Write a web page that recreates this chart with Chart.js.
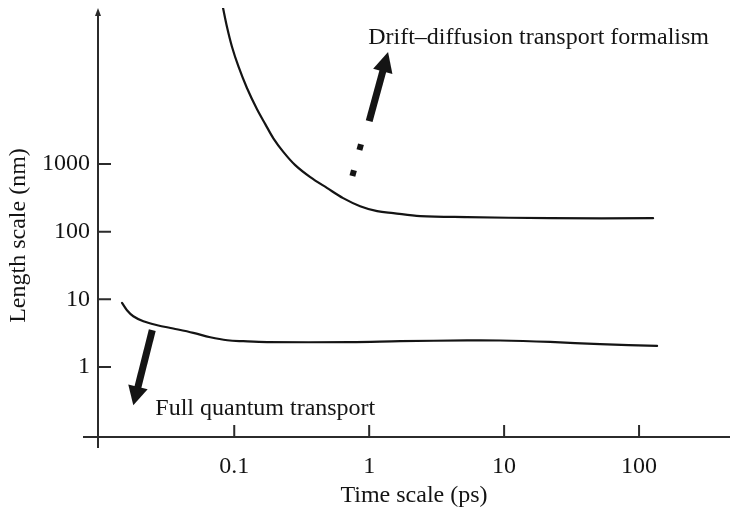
<!DOCTYPE html>
<html><head><meta charset="utf-8">
<script src="https://cdn.jsdelivr.net/npm/chart.js@4/dist/chart.umd.min.js"></script>
<style>html,body{margin:0;padding:0;background:#fff}#wrap{width:730px;height:513px}</style>
</head><body><div id="wrap"><canvas id="c" width="730" height="513"></canvas></div>
<script>
// ---- data ----
const upperTime   = [0.0824, 0.0883, 0.0962, 0.1076, 0.1242, 0.1472, 0.1698, 0.1955, 0.2318, 0.283, 0.366, 0.489, 0.641, 0.857, 1.146, 1.51, 2.39, 5.32, 21.9, 127];
const upperLength = [207000, 107000, 54200, 27400, 13270, 6490, 3890, 2376, 1500, 963, 640, 440, 313, 238, 201, 188, 170, 164, 158, 158];
const lowerTime   = [0.01473, 0.01603, 0.01786, 0.0212, 0.0269, 0.0353, 0.0497, 0.0664, 0.0888, 0.1166, 0.1755, 0.722, 1.70, 5.32, 9.34, 21.9, 51.4, 136];
const lowerLength = [8.85, 6.90, 5.62, 4.74, 4.14, 3.70, 3.19, 2.75, 2.48, 2.40, 2.33, 2.33, 2.40, 2.47, 2.46, 2.34, 2.17, 2.05];
const xTickValues = [0.1, 1, 10, 100];
const xTickLabels = ['0.1', '1', '10', '100'];
const yTickValues = [1, 10, 100, 1000];
const yTickLabels = ['1', '10', '100', '1000'];
const xTitle = 'Time scale (ps)';
const yTitle = 'Length scale (nm)';
const driftLabel = 'Drift\u2013diffusion transport formalism';
const quantumLabel = 'Full quantum transport';

// ---- styling / annotation placement (data coordinates) ----
const ink = '#141414';
const axisInk = '#2b2b2b';
const FONT = "'Liberation Serif', 'Times New Roman', serif";
const fontSpec = {family: FONT, size: 24};
const driftArrow = {from: {x: 1.0, y: 4310}, to: {x: 1.38, y: 45200}, dots: [{x: 0.858, y: 1778}, {x: 0.761, y: 733}]};
const quantumArrow = {from: {x: 0.0247, y: 3.49}, to: {x: 0.01786, y: 0.271}};
const driftText = {x: 0.983, y: 72800};
const quantumText = {x: 0.026, y: 0.245};

function arrow(ctx, x0, y0, x1, y1, shaftW, headL, headW) {
  const dx = x1 - x0, dy = y1 - y0, len = Math.hypot(dx, dy);
  const ux = dx / len, uy = dy / len, px = -uy, py = ux;
  const bx = x1 - ux * headL, by = y1 - uy * headL;
  ctx.beginPath();
  ctx.lineWidth = shaftW; ctx.lineCap = 'butt';
  ctx.moveTo(x0, y0); ctx.lineTo(bx + ux, by + uy); ctx.stroke();
  ctx.beginPath();
  ctx.moveTo(x1, y1);
  ctx.lineTo(bx + px * headW / 2, by + py * headW / 2);
  ctx.lineTo(bx - px * headW / 2, by - py * headW / 2);
  ctx.closePath(); ctx.fill();
  return {ux, uy};
}

const decor = {
  id: 'decor',
  afterDraw(chart) {
    const {ctx, chartArea: a, scales: {x, y}} = chart;
    ctx.save();
    // axes
    ctx.strokeStyle = axisInk; ctx.fillStyle = axisInk; ctx.lineWidth = 2;
    ctx.beginPath();
    ctx.moveTo(a.left, a.bottom + 11); ctx.lineTo(a.left, a.top + 5);
    ctx.moveTo(a.left - 15, a.bottom); ctx.lineTo(a.right, a.bottom);
    yTickValues.forEach(v => { const p = y.getPixelForValue(v); ctx.moveTo(a.left, p); ctx.lineTo(a.left + 13, p); });
    xTickValues.forEach(v => { const p = x.getPixelForValue(v); ctx.moveTo(p, a.bottom); ctx.lineTo(p, a.bottom - 12); });
    ctx.stroke();
    ctx.beginPath();
    ctx.moveTo(a.left, a.top); ctx.lineTo(a.left - 3, a.top + 8); ctx.lineTo(a.left + 3, a.top + 8);
    ctx.closePath(); ctx.fill();

    // arrows
    ctx.strokeStyle = ink; ctx.fillStyle = ink;
    const f = driftArrow;
    const d = arrow(ctx, x.getPixelForValue(f.from.x), y.getPixelForValue(f.from.y),
                    x.getPixelForValue(f.to.x), y.getPixelForValue(f.to.y), 7, 20, 20);
    f.dots.forEach(p => {
      const cx = x.getPixelForValue(p.x), cy = y.getPixelForValue(p.y);
      ctx.save(); ctx.translate(cx, cy); ctx.rotate(Math.atan2(d.uy, d.ux));
      ctx.fillRect(-3, -3, 6, 6); ctx.restore();
    });
    const q = quantumArrow;
    arrow(ctx, x.getPixelForValue(q.from.x), y.getPixelForValue(q.from.y),
          x.getPixelForValue(q.to.x), y.getPixelForValue(q.to.y), 7, 19, 20);

    // labels
    ctx.font = '24px ' + FONT; ctx.textBaseline = 'middle'; ctx.textAlign = 'left';
    ctx.fillText(driftLabel, x.getPixelForValue(driftText.x), y.getPixelForValue(driftText.y));
    ctx.fillText(quantumLabel, x.getPixelForValue(quantumText.x), y.getPixelForValue(quantumText.y));

    // y axis title
    ctx.save();
    ctx.translate(19, (a.top + a.bottom) / 2 + 13);
    ctx.rotate(-Math.PI / 2);
    ctx.textAlign = 'center';
    ctx.fillText(yTitle, 0, 0);
    ctx.restore();
    ctx.restore();
  }
};

const line = (xs, ys) => ({
  data: xs.map((t, i) => ({x: t, y: ys[i]})),
  borderColor: ink, borderWidth: 2.2, pointRadius: 0, fill: false,
  tension: 0.35, borderJoinStyle: 'round', borderCapStyle: 'round'
});

new Chart(document.getElementById('c'), {
  type: 'line',
  data: {datasets: [line(upperTime, upperLength), line(lowerTime, lowerLength)]},
  options: {
    responsive: false, animation: false, devicePixelRatio: 1,
    layout: {padding: {top: 8, right: 0, left: 0, bottom: 0}},
    plugins: {legend: {display: false}, tooltip: {enabled: false}},
    scales: {
      x: {
        type: 'logarithmic', min: 0.00978, max: 472,
        afterBuildTicks: s => { s.ticks = xTickValues.map(v => ({value: v})); },
        afterFit: s => { s.height = 76; s.paddingLeft = 0; s.paddingRight = 0; },
        grid: {display: false, drawTicks: false}, border: {display: false},
        ticks: {autoSkip: false, maxRotation: 0, padding: 15, color: ink, font: fontSpec,
                callback: v => xTickLabels[xTickValues.indexOf(v)]},
        title: {display: true, text: xTitle, color: ink, font: fontSpec, padding: {top: 0, bottom: 3}}
      },
      y: {
        type: 'logarithmic', min: 0.0921, max: 202300,
        afterBuildTicks: s => { s.ticks = yTickValues.map(v => ({value: v})); },
        afterFit: s => { s.width = 98; s.paddingTop = 0; s.paddingBottom = 0; },
        grid: {display: false, drawTicks: false}, border: {display: false},
        ticks: {autoSkip: false, padding: 8, color: ink, font: fontSpec,
                callback: v => yTickLabels[yTickValues.indexOf(v)]},
        title: {display: false, text: yTitle}
      }
    }
  },
  plugins: [decor]
});
</script>
</body></html>
